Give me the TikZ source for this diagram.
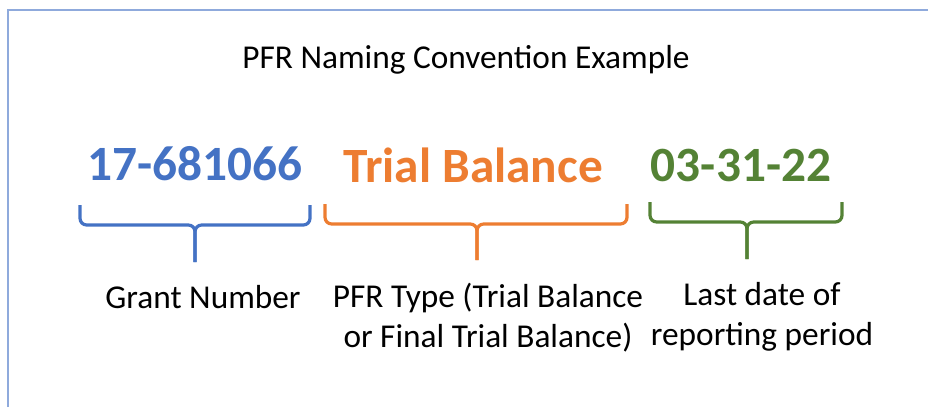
\documentclass[tikz,border=0pt]{standalone}
\usepackage{fontspec}
\setmainfont{Carlito}
\usepackage{tikz}
\usetikzlibrary{positioning,calc}

\definecolor{pfrblue}{HTML}{4472C4}
\definecolor{pfrorange}{HTML}{ED7D31}
\definecolor{pfrgreen}{HTML}{548235}
\definecolor{framecol}{HTML}{8FAADC}

\begin{document}
\begin{tikzpicture}[x=0.75pt,y=-0.75pt,
	bigpart/.style={font=\fontsize{37}{40}\selectfont\bfseries,anchor=base,inner sep=0pt},
	caption/.style={font=\fontsize{25}{29.5}\selectfont,anchor=base,inner sep=0pt,align=center},
	bracket/.style={line width=2.4pt,rounded corners=5pt}]
\useasboundingbox (0,0) rectangle (928,407);
\draw[framecol,line width=1.5pt] (8,407) -- (8,10) -- (928,10);

\node [caption] (title) at (466,68) {PFR Naming Convention Example};

\node [bigpart,pfrblue] (grant) at (195,180) {17-681066};
\node [bigpart,pfrorange] (type) at (473,182) {Trial Balance};
\node [bigpart,pfrgreen] (date) at (741,181) {03-31-22};

% two-line captions sit on the baseline of their last line
\node [caption] (grantlbl) at (203,308) {Grant Number};
\node [caption] (typelbl) at (488,347) {PFR Type (Trial Balance\\or Final Trial Balance)};
\node [caption] (datelbl) at (762,345) {Last date of\\reporting period};

% brackets under the parts
\coordinate (gl) at (80,205);
\coordinate (gr) at (310,205);
\coordinate (gm) at (195,225);
\coordinate (gs) at (195,262);
\draw[bracket,pfrblue] (gl) |- (gm) -- (gs);
\draw[bracket,pfrblue] (gr) |- (gm) -- (gs);

\coordinate (tl) at (325,204);
\coordinate (tr) at (627,204);
\coordinate (tm) at (477,224);
\coordinate (ts) at (477,260);
\draw[bracket,pfrorange] (tl) |- (tm) -- (ts);
\draw[bracket,pfrorange] (tr) |- (tm) -- (ts);

\coordinate (dl) at (650,202);
\coordinate (dr) at (842,202);
\coordinate (dm) at (747,222);
\coordinate (ds) at (747,259);
\draw[bracket,pfrgreen] (dl) |- (dm) -- (ds);
\draw[bracket,pfrgreen] (dr) |- (dm) -- (ds);
\end{tikzpicture}
\end{document}
